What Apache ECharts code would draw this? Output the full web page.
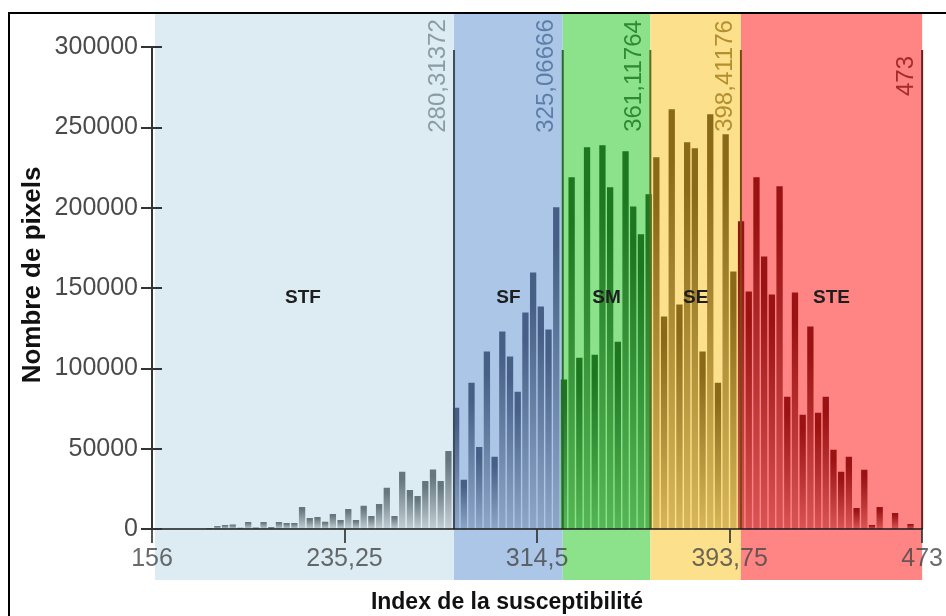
<!DOCTYPE html>
<html><head><meta charset="utf-8">
<script src="https://cdn.jsdelivr.net/npm/echarts@6/dist/echarts.min.js"></script>
<style>html,body{margin:0;padding:0;background:#fff}#c{width:946px;height:616px}</style>
</head><body><div id="c"></div>
<script>
// ---- data ----
const binMin = 156;
const binMax = 473;
const counts = [
  0, 0, 0, 0, 0, 0, 0, 600, 1900, 2500,
  2800, 800, 4400, 1000, 4400, 1200, 4400, 3700, 3700, 13700,
  6900, 7500, 4500, 9400, 5600, 12500, 5600, 14400, 8100, 15600,
  25600, 8100, 35600, 24300, 20600, 29900, 37000, 29900, 48600, 75500,
  30600, 91100, 51100, 110400, 44900, 122900, 107300, 85400, 134700, 159700,
  138500, 124100, 200200, 93000, 219000, 106600, 237600, 108500, 238900, 212700,
  116600, 235100, 200800, 183400, 208300, 231400, 132200, 261300, 139700, 240700,
  237000, 110400, 258200, 91000, 245700, 160300, 191500, 147800, 218900, 169600,
  145900, 213300, 82300, 147200, 71100, 126000, 72300, 82300, 49300, 35600,
  44900, 13100, 36800, 2500, 13700, 0, 10000, 0, 3100, 0
];
const zoneNames = ['STF', 'SF', 'SM', 'SE', 'STE'];
const zoneBounds = [156, 280.31372, 325.06666, 361.11764, 398.41176, 473];
const boundLabels = ['280,31372', '325,06666', '361,11764', '398,41176', '473'];
const xTickValues = [156, 235.25, 314.5, 393.75, 473];
const xTickLabels = ['156', '235,25', '314,5', '393,75', '473'];
const yMax = 300000;
const yStep = 50000;

// ---- styles ----
const zoneBg = ['#dcecf2', '#abc6e6', '#8be28a', '#fde08c', '#ff8585'];
const barTop = ['#65767e', '#475f86', '#1d7620', '#8a6a18', '#9a1212'];
const barBottom = ['#c3cfd3', '#8ea7c8', '#55b655', '#d8b75a', '#da5454'];
const lineColors = ['#3d4d5d', '#2a6a2a', '#5c6e1e', '#7a4a12', '#6a2020'];
const labelColors = ['#8a9ca6', '#5d7ea8', '#2f8b2f', '#b48f30', '#a52a2a'];
const FONT = '"Liberation Sans", Arial, sans-serif';

const binW = (binMax - binMin) / counts.length;
function zoneOf(x) {
  for (let k = 0; k < zoneNames.length; k++) if (x < zoneBounds[k + 1]) return k;
  return zoneNames.length - 1;
}

const chart = echarts.init(document.getElementById('c'), null, {renderer: 'canvas'});
const data = counts.map((c, i) => [binMin + (i + 0.5) * binW, c]);

chart.setOption({
  backgroundColor: '#ffffff',
  animation: false,
  grid: {left: 152, right: 21, top: 47, bottom: 87, containLabel: false},
  xAxis: {
    type: 'value', min: binMin, max: binMax, z: 10,
    axisLine: {show: true, lineStyle: {color: '#1a1a1a', width: 2, opacity: 0.75}},
    axisTick: {show: true, length: 14, customValues: xTickValues, lineStyle: {color: '#2a2a2a', width: 2, opacity: 0.8}},
    axisLabel: {
      customValues: xTickValues, fontSize: 25, fontFamily: FONT, color: 'rgba(70,70,70,0.8)', margin: 18,
      formatter: v => xTickLabels[xTickValues.indexOf(v)] ?? ''
    },
    splitLine: {show: false}
  },
  yAxis: [{
    type: 'value', min: 0, max: yMax, interval: yStep, z: 10,
    axisLine: {show: true, lineStyle: {color: '#333', width: 2}},
    axisTick: {show: true, length: 11, lineStyle: {color: '#333', width: 2}},
    axisLabel: {fontSize: 25, fontFamily: FONT, color: '#4a4a4a', margin: 14, formatter: v => String(v)},
    splitLine: {show: false}
  }, {
    type: 'value', min: 0, max: yMax, interval: yStep, position: 'left', offset: 0, z: 10,
    axisLine: {show: false},
    axisTick: {show: true, inside: true, length: 10, lineStyle: {color: '#333', width: 2}},
    axisLabel: {show: false},
    splitLine: {show: false}
  }],
  series: [{
    type: 'custom', z: 5, clip: false,
    data: data,
    renderItem: function (params, api) {
      const xc = api.value(0), v = api.value(1);
      if (!v) return null;
      const a = api.coord([xc - binW / 2, v]);
      const b = api.coord([xc + binW / 2, 0]);
      const z = zoneOf(xc);
      return {
        type: 'rect',
        shape: {x: a[0] + 0.6, y: a[1], width: b[0] - a[0] - 1.4, height: b[1] - a[1]},
        style: {
          fill: {type: 'linear', x: 0, y: 0, x2: 0, y2: 1, colorStops: [
            {offset: 0, color: barTop[z]}, {offset: 0.12, color: barTop[z]}, {offset: 1, color: barBottom[z]}
          ]}
        }
      };
    }
  }]
});

function px(v) { return chart.convertToPixel({xAxisIndex: 0}, v); }
function py(v) { return chart.convertToPixel({yAxisIndex: 0}, v); }

const g = [];
const yTopLine = py(yMax) + 3;
const y0 = py(0);
for (let k = 0; k < zoneNames.length; k++) {
  const xa = px(zoneBounds[k]) + (k === 0 ? 3 : 0);
  const xb = px(zoneBounds[k + 1]);
  g.push({type: 'rect', z: 0, silent: true, shape: {x: xa, y: 14, width: xb - xa, height: 566}, style: {fill: zoneBg[k]}});
  g.push({type: 'text', z: 20, silent: true, x: (px(zoneBounds[k]) + xb) / 2, y: 298,
    style: {text: zoneNames[k], fill: '#1e1e1e', font: 'bold 19px ' + FONT, align: 'center', verticalAlign: 'middle'}});
}
for (let k = 1; k < zoneBounds.length; k++) {
  const x = px(zoneBounds[k]);
  g.push({type: 'line', z: 8, silent: true, shape: {x1: x, y1: yTopLine, x2: x, y2: y0}, style: {stroke: lineColors[k - 1], lineWidth: 2}});
  g.push({type: 'text', z: 8, silent: true, x: x - 16, y: 76, rotation: Math.PI / 2,
    style: {text: boundLabels[k - 1], fill: labelColors[k - 1], font: '24px ' + FONT, align: 'center', verticalAlign: 'middle'}});
}
g.push({type: 'text', z: 20, silent: true, x: 507, y: 603,
  style: {text: 'Index de la susceptibilité', fill: '#111', font: 'bold 23px ' + FONT, align: 'center', verticalAlign: 'middle'}});
g.push({type: 'text', z: 20, silent: true, x: 33, y: 275, rotation: Math.PI / 2,
  style: {text: 'Nombre de pixels', fill: '#111', font: 'bold 26px ' + FONT, align: 'center', verticalAlign: 'middle'}});
g.push({type: 'rect', z: 30, silent: true, shape: {x: 9, y: 13, width: 1000, height: 700}, style: {fill: 'none', stroke: '#000', lineWidth: 2}});
chart.setOption({graphic: {elements: g}});
</script></body></html>
